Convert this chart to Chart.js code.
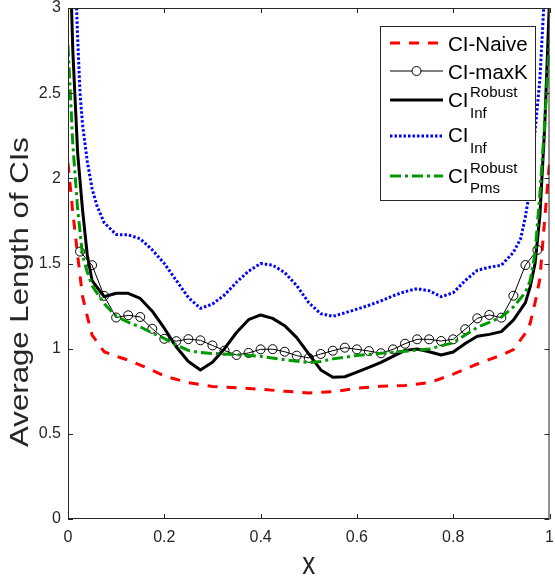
<!DOCTYPE html>
<html><head><meta charset="utf-8">
<script src="https://cdn.jsdelivr.net/npm/chart.js@4.4.1/dist/chart.umd.min.js"></script>
<style>html,body{margin:0;padding:0;background:#fff;}#wrap{width:555px;height:580px;}</style>
</head><body><div id="wrap"><canvas id="c" width="555" height="580"></canvas></div>
<script>
// ---- data ----
const xTickVals = [0, 0.2, 0.4, 0.6, 0.8, 1];
const xTickLabels = ['0', '0.2', '0.4', '0.6', '0.8', '1'];
const yTickVals = [0, 0.5, 1, 1.5, 2, 2.5, 3];
const yTickLabels = ['0', '0.5', '1', '1.5', '2', '2.5', '3'];
const xTitle = 'x';
const yTitle = 'Average Length of CIs';

const naiveX = [0,0.01,0.02,0.03,0.04,0.05,0.075,0.1,0.125,0.15,0.175,0.2,0.25,0.3,0.35,0.4,0.45,0.5,0.55,0.6,0.65,0.7,0.75,0.8,0.85,0.9,0.925,0.95,0.96,0.97,0.98,0.99,1];
const naiveY = [2.09,1.80,1.55,1.31,1.19,1.08,0.982,0.955,0.933,0.904,0.873,0.84,0.80,0.778,0.770,0.762,0.750,0.740,0.747,0.768,0.779,0.784,0.80,0.85,0.91,0.962,0.995,1.09,1.15,1.27,1.41,1.76,2.09];

const maxKX = [0.025,0.05,0.075,0.1,0.125,0.15,0.175,0.2,0.225,0.25,0.275,0.3,0.325,0.35,0.375,0.4,0.425,0.45,0.475,0.5,0.525,0.55,0.575,0.6,0.625,0.65,0.675,0.7,0.725,0.75,0.775,0.8,0.825,0.85,0.875,0.9,0.925,0.95,0.975];
const maxKY = [1.57,1.49,1.31,1.183,1.196,1.186,1.117,1.058,1.044,1.056,1.049,1.019,0.989,0.963,0.975,0.996,0.997,0.982,0.959,0.946,0.969,0.988,1.006,0.996,0.986,0.973,0.996,1.029,1.055,1.055,1.045,1.055,1.114,1.178,1.198,1.182,1.311,1.491,1.58];

const robInfX = [0,0.01,0.02,0.03,0.04,0.05,0.075,0.1,0.125,0.15,0.175,0.2,0.225,0.25,0.275,0.3,0.325,0.35,0.375,0.4,0.425,0.45,0.475,0.5,0.525,0.55,0.575,0.6,0.625,0.65,0.675,0.7,0.725,0.75,0.775,0.8,0.825,0.85,0.875,0.9,0.925,0.95,0.96,0.97,0.98,0.99,1];
const robInfY = [3.7,2.75,2.15,1.82,1.55,1.40,1.305,1.325,1.325,1.295,1.22,1.12,1.01,0.925,0.875,0.92,1.0,1.095,1.17,1.198,1.178,1.135,1.065,0.97,0.875,0.832,0.835,0.862,0.89,0.92,0.955,0.99,0.998,0.982,0.963,0.98,1.03,1.073,1.084,1.10,1.168,1.27,1.364,1.50,1.78,2.30,3.05];

const infX = [0,0.01,0.02,0.025,0.03,0.04,0.05,0.06,0.075,0.1,0.125,0.15,0.175,0.2,0.225,0.25,0.275,0.3,0.325,0.35,0.375,0.4,0.425,0.45,0.475,0.5,0.525,0.55,0.575,0.6,0.625,0.65,0.675,0.7,0.725,0.75,0.775,0.8,0.825,0.85,0.875,0.9,0.925,0.94,0.95,0.96,0.97,0.98,0.99,1];
const infY = [4.4,3.6,2.83,2.5,2.32,2.1,1.94,1.84,1.74,1.67,1.668,1.645,1.58,1.50,1.40,1.30,1.237,1.262,1.315,1.39,1.455,1.50,1.49,1.447,1.37,1.27,1.205,1.19,1.21,1.232,1.255,1.28,1.31,1.335,1.352,1.34,1.305,1.328,1.40,1.46,1.478,1.49,1.565,1.645,1.775,1.95,2.28,2.58,3.11,4.4];

const pmsX = [0,0.01,0.02,0.03,0.04,0.05,0.075,0.1,0.125,0.15,0.175,0.2,0.225,0.25,0.275,0.3,0.35,0.4,0.45,0.5,0.525,0.55,0.6,0.65,0.7,0.75,0.8,0.825,0.85,0.875,0.9,0.925,0.95,0.96,0.97,0.98,0.99,1];
const pmsY = [2.78,2.2,1.82,1.55,1.45,1.37,1.265,1.19,1.155,1.128,1.092,1.06,1.022,0.99,0.977,0.972,0.965,0.955,0.935,0.918,0.925,0.94,0.96,0.973,0.985,0.998,1.035,1.08,1.125,1.155,1.185,1.245,1.33,1.40,1.56,1.91,2.32,2.81];

const seriesNames = ['CI-Naive', 'CI-maxK', 'CI', 'CI', 'CI'];

const toPts = (xs, ys) => xs.map((x, i) => ({x: x, y: ys[i]}));
const AX = '#262626';
const FONT = '"Liberation Sans", Arial, Helvetica, sans-serif';

const datasets = [
  {label: seriesNames[0], data: toPts(naiveX, naiveY), borderColor: '#ff0000', borderWidth: 3, borderDash: [10, 9], pointRadius: 0, order: 5},
  {label: seriesNames[1], data: toPts(maxKX, maxKY), borderColor: '#000000', borderWidth: 1, pointRadius: 4.5, pointStyle: 'circle', pointBorderColor: '#000', pointBackgroundColor: 'rgba(0,0,0,0)', pointBorderWidth: 1, order: 4},
  {label: seriesNames[2], data: toPts(robInfX, robInfY), borderColor: '#000000', borderWidth: 3, pointRadius: 0, order: 3},
  {label: seriesNames[3], data: toPts(infX, infY), borderColor: '#0000ff', borderWidth: 3, borderDash: [2.5, 2], pointRadius: 0, order: 2},
  {label: seriesNames[4], data: toPts(pmsX, pmsY), borderColor: '#009a00', borderWidth: 3, borderDash: [11, 4, 3, 4], pointRadius: 0, order: 1}
];
datasets.forEach(d => { d.tension = 0; d.fill = false; d.borderCapStyle = 'butt'; d.borderJoinStyle = 'round'; });

const framePlugin = {
  id: 'frame',
  afterDatasetsDraw(chart) {
    const {ctx, chartArea: a, scales: {x, y}} = chart;
    ctx.save();
    ctx.strokeStyle = AX; ctx.lineWidth = 1; ctx.setLineDash([]);
    ctx.strokeRect(a.left + 0.5, a.top + 0.5, a.right - a.left - 1, a.bottom - a.top - 1);
    ctx.beginPath();
    x.ticks.forEach(t => {
      const p = Math.round(x.getPixelForValue(t.value)) + 0.5;
      ctx.moveTo(p, a.bottom); ctx.lineTo(p, a.bottom - 5);
      ctx.moveTo(p, a.top); ctx.lineTo(p, a.top + 5);
    });
    y.ticks.forEach(t => {
      const p = Math.round(y.getPixelForValue(t.value)) + 0.5;
      ctx.moveTo(a.left, p); ctx.lineTo(a.left + 5, p);
      ctx.moveTo(a.right, p); ctx.lineTo(a.right - 5, p);
    });
    ctx.stroke();
    ctx.restore();
  }
};

const titlePlugin = {
  id: 'titles',
  afterDraw(chart) {
    const {ctx, chartArea: a} = chart;
    ctx.save();
    ctx.fillStyle = AX;
    ctx.font = '26px ' + FONT;
    ctx.textAlign = 'center'; ctx.textBaseline = 'alphabetic';
    ctx.save();
    ctx.translate(28, 292); ctx.rotate(-Math.PI / 2); ctx.scale(1.2, 1);
    ctx.fillText(yTitle, 0, 0);
    ctx.restore();
    ctx.save();
    ctx.translate((a.left + a.right) / 2, 574); ctx.scale(1.0, 1.2);
    ctx.fillText(xTitle, 0, 0);
    ctx.restore();
    ctx.restore();
  }
};

const legendPlugin = {
  id: 'mlegend',
  afterDraw(chart) {
    const ctx = chart.ctx;
    const ds = chart.data.datasets;
    ctx.save();
    ctx.fillStyle = '#fff';
    ctx.fillRect(380, 26, 155, 174);
    ctx.strokeStyle = AX; ctx.lineWidth = 1;
    ctx.strokeRect(380.5, 26.5, 155, 174);
    const x0 = 390, x1 = 443, tx = 448;
    const rows = [43, 71, 100, 136, 176];
    ds.forEach((d, i) => {
      ctx.save();
      ctx.strokeStyle = d.borderColor; ctx.lineWidth = d.borderWidth;
      ctx.setLineDash(d.borderDash || []); ctx.lineCap = 'butt';
      ctx.beginPath(); ctx.moveTo(x0, rows[i]); ctx.lineTo(x1, rows[i]); ctx.stroke();
      if (d.pointRadius > 0) {
        ctx.setLineDash([]); ctx.lineWidth = d.pointBorderWidth;
        ctx.fillStyle = '#fff';
        ctx.beginPath(); ctx.arc((x0 + x1) / 2, rows[i], d.pointRadius, 0, Math.PI * 2); ctx.fill(); ctx.stroke();
      }
      ctx.restore();
    });
    ctx.fillStyle = '#000';
    ctx.textBaseline = 'alphabetic';
    const big = '20.5px ' + FONT, small = '15px ' + FONT;
    ctx.font = big;
    ctx.fillText(seriesNames[0], tx, 50.5);
    ctx.fillText(seriesNames[1], tx, 78.5);
    ctx.fillText(seriesNames[2], tx, 107);
    ctx.fillText(seriesNames[3], tx, 142);
    ctx.fillText(seriesNames[4], tx, 183);
    const sx = tx + ctx.measureText('CI').width + 1.5;
    ctx.font = small;
    ctx.fillText('Robust', sx, 97);
    ctx.fillText('Inf', sx, 117.5);
    ctx.fillText('Inf', sx, 152.5);
    ctx.fillText('Robust', sx, 172.5);
    ctx.fillText('Pms', sx, 192.5);
    ctx.restore();
  }
};

new Chart(document.getElementById('c'), {
  type: 'line',
  data: {datasets: datasets},
  options: {
    responsive: false, animation: false, devicePixelRatio: 1,
    layout: {padding: {top: 8, right: 4, left: 0, bottom: 0}},
    plugins: {legend: {display: false}, tooltip: {enabled: false}},
    scales: {
      x: {
        type: 'linear', min: 0, max: 1,
        afterBuildTicks: s => { s.ticks = xTickVals.map(v => ({value: v})); },
        afterFit: s => { s.height = 61; s.paddingLeft = 0; s.paddingRight = 0; },
        grid: {display: false, drawTicks: false},
        border: {display: false},
        ticks: {callback: (v, i) => xTickLabels[i], color: AX, font: {family: FONT, size: 16}, padding: 9, maxRotation: 0, autoSkip: false},
        title: {display: false}
      },
      y: {
        type: 'linear', min: 0, max: 3,
        afterBuildTicks: s => { s.ticks = yTickVals.map(v => ({value: v})); },
        afterFit: s => { s.width = 68; s.paddingTop = 0; s.paddingBottom = 0; },
        grid: {display: false, drawTicks: false},
        border: {display: false},
        ticks: {callback: (v, i) => yTickLabels[i], color: AX, font: {family: FONT, size: 16}, padding: 7, autoSkip: false},
        title: {display: false}
      }
    }
  },
  plugins: [framePlugin, titlePlugin, legendPlugin]
});
</script></body></html>
